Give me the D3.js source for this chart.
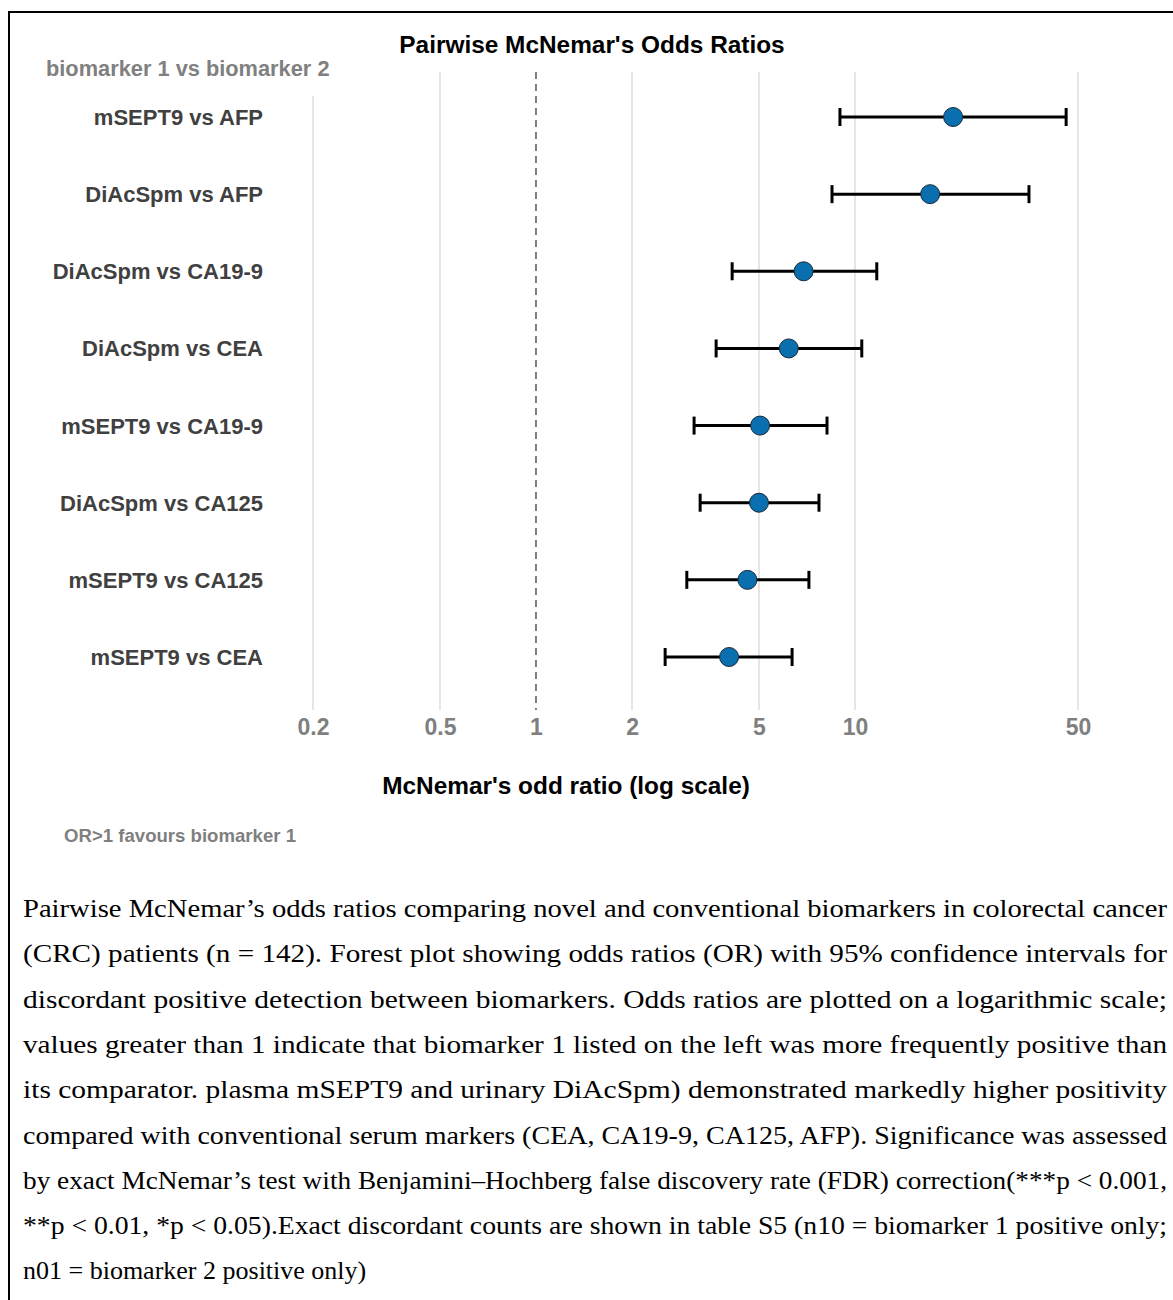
<!DOCTYPE html>
<html>
<head>
<meta charset="utf-8">
<script src="https://cdn.jsdelivr.net/npm/d3@7"></script>
<style>
  body { margin: 0; background: #fff; }
  .sans { font-family: "Liberation Sans", Arial, sans-serif; }
  .serif { font-family: "Liberation Serif", "DejaVu Serif", serif; }
</style>
</head>
<body>
<svg id="chart" width="1173" height="1300"></svg>
<script>
// comparisons, top to bottom
var pairs = ["mSEPT9 vs AFP", "DiAcSpm vs AFP", "DiAcSpm vs CA19-9", "DiAcSpm vs CEA",
             "mSEPT9 vs CA19-9", "DiAcSpm vs CA125", "mSEPT9 vs CA125", "mSEPT9 vs CEA"];
var oddsRatio = [20.3, 17.2, 6.9, 6.2, 5.04, 5.0, 4.6, 4.03];
var ciLow     = [8.97, 8.47, 4.12, 3.67, 3.13, 3.27, 2.97, 2.54];
var ciHigh    = [45.9, 35.1, 11.7, 10.5, 8.17, 7.71, 7.17, 6.35];
var tickValues = [0.2, 0.5, 1, 2, 5, 10, 50];

var captionLines = [
  "Pairwise McNemar\u2019s odds ratios comparing novel and conventional biomarkers in colorectal cancer",
  "(CRC) patients (n = 142). Forest plot showing odds ratios (OR) with 95% confidence intervals for",
  "discordant positive detection between biomarkers. Odds ratios are plotted on a logarithmic scale;",
  "values greater than 1 indicate that biomarker 1 listed on the left was more frequently positive than",
  "its comparator. plasma mSEPT9 and urinary DiAcSpm) demonstrated markedly higher positivity",
  "compared with conventional serum markers (CEA, CA19-9, CA125, AFP). Significance was assessed",
  "by exact McNemar\u2019s test with Benjamini\u2013Hochberg false discovery rate (FDR) correction(***p < 0.001,",
  "**p < 0.01, *p < 0.05).Exact discordant counts are shown in table S5 (n10 = biomarker 1 positive only;",
  "n01 = biomarker 2 positive only)"
];

var data = pairs.map(function (p, i) {
    return { label: p, or: oddsRatio[i], lo: ciLow[i], hi: ciHigh[i] };
});

var svg = d3.select("#chart");

// frame (open to the right / bottom as in the cropped figure)
svg.append("rect")
    .attr("x", 9).attr("y", 12)
    .attr("width", 1300).attr("height", 1400)
    .attr("fill", "none")
    .attr("stroke", "#000")
    .attr("stroke-width", 2);

var xScale = d3.scaleLog()
    .domain([0.2, 50])
    .range([313, 1078]);

var yScale = d3.scalePoint()
    .domain(pairs)
    .range([117, 657]);

var gridTop = 72, gridBottom = 710;

// vertical gridlines
svg.append("g")
    .attr("class", "grid")
    .selectAll("line")
    .data(tickValues.filter(function (d) { return d !== 1; }))
    .enter().append("line")
    .attr("x1", function (d) { return xScale(d); })
    .attr("x2", function (d) { return xScale(d); })
    .attr("y1", gridTop)
    .attr("y2", gridBottom)
    .attr("stroke", "#e6e6e6")
    .attr("stroke-width", 2);

// reference line at OR = 1
svg.append("line")
    .attr("x1", xScale(1)).attr("x2", xScale(1))
    .attr("y1", gridTop).attr("y2", gridBottom)
    .attr("stroke", "#555")
    .attr("stroke-width", 1.5)
    .attr("stroke-dasharray", "7,5");

// title
svg.append("text")
    .attr("class", "sans")
    .attr("x", 592).attr("y", 53)
    .attr("text-anchor", "middle")
    .attr("font-size", 24.4)
    .attr("font-weight", "bold")
    .attr("fill", "#000")
    .text("Pairwise McNemar's Odds Ratios");

// column header with white backing
svg.append("rect")
    .attr("x", 40).attr("y", 54)
    .attr("width", 295).attr("height", 42)
    .attr("fill", "#fff");
svg.append("text")
    .attr("class", "sans")
    .attr("x", 46).attr("y", 76)
    .attr("font-size", 21.8)
    .attr("font-weight", "bold")
    .attr("fill", "#808080")
    .text("biomarker 1 vs biomarker 2");

// row labels
svg.append("g")
    .selectAll("text")
    .data(data)
    .enter().append("text")
    .attr("class", "sans")
    .attr("x", 263)
    .attr("y", function (d) { return yScale(d.label) + 8; })
    .attr("text-anchor", "end")
    .attr("font-size", 22)
    .attr("font-weight", "bold")
    .attr("fill", "#404040")
    .text(function (d) { return d.label; });

// x axis (labels only)
var xAxis = d3.axisBottom(xScale)
    .tickValues(tickValues)
    .tickFormat(d3.format("~g"))
    .tickSize(0)
    .tickPadding(0);

svg.append("g")
    .attr("class", "x axis")
    .attr("transform", "translate(0,714)")
    .call(xAxis)
    .call(function (g) { g.select(".domain").remove(); })
    .call(function (g) {
        g.attr("font-family", null).attr("font-size", null);
        g.selectAll(".tick text")
            .attr("class", "sans")
            .attr("dy", 0)
            .attr("y", 21)
            .attr("font-size", 23)
            .attr("font-weight", "bold")
            .attr("fill", "#7f7f7f");
    });

// axis title
svg.append("text")
    .attr("class", "sans")
    .attr("x", 566).attr("y", 794)
    .attr("text-anchor", "middle")
    .attr("font-size", 24.4)
    .attr("font-weight", "bold")
    .attr("fill", "#000")
    .text("McNemar's odd ratio (log scale)");

svg.append("text")
    .attr("class", "sans")
    .attr("x", 64).attr("y", 842)
    .attr("font-size", 18.6)
    .attr("font-weight", "bold")
    .attr("fill", "#7f7f7f")
    .text("OR>1 favours biomarker 1");

// error bars
var bars = svg.append("g").attr("class", "ci")
    .selectAll("g")
    .data(data)
    .enter().append("g");

bars.append("line")
    .attr("x1", function (d) { return xScale(d.lo); })
    .attr("x2", function (d) { return xScale(d.hi); })
    .attr("y1", function (d) { return yScale(d.label); })
    .attr("y2", function (d) { return yScale(d.label); })
    .attr("stroke", "#000")
    .attr("stroke-width", 3);

["lo", "hi"].forEach(function (k) {
    bars.append("line")
        .attr("x1", function (d) { return xScale(d[k]); })
        .attr("x2", function (d) { return xScale(d[k]); })
        .attr("y1", function (d) { return yScale(d.label) - 9; })
        .attr("y2", function (d) { return yScale(d.label) + 9; })
        .attr("stroke", "#000")
        .attr("stroke-width", 3);
});

// points
svg.append("g")
    .selectAll(".dot")
    .data(data)
    .enter().append("circle")
    .attr("class", "dot")
    .attr("cx", function (d) { return xScale(d.or); })
    .attr("cy", function (d) { return yScale(d.label); })
    .attr("r", 9.5)
    .attr("fill", "#0a6faf")
    .attr("stroke", "#1a2a3a")
    .attr("stroke-width", 1);

// caption, justified line by line
var cap = svg.append("g").attr("class", "caption");
captionLines.forEach(function (line, i) {
    var t = cap.append("text")
        .attr("class", "serif")
        .attr("x", 23)
        .attr("y", 917 + i * 45.3)
        .attr("font-size", 26)
        .attr("fill", "#000")
        .text(line);
    if (i < captionLines.length - 1) {
        t.attr("textLength", 1144).attr("lengthAdjust", "spacingAndGlyphs");
    }
});
</script>
</body>
</html>
